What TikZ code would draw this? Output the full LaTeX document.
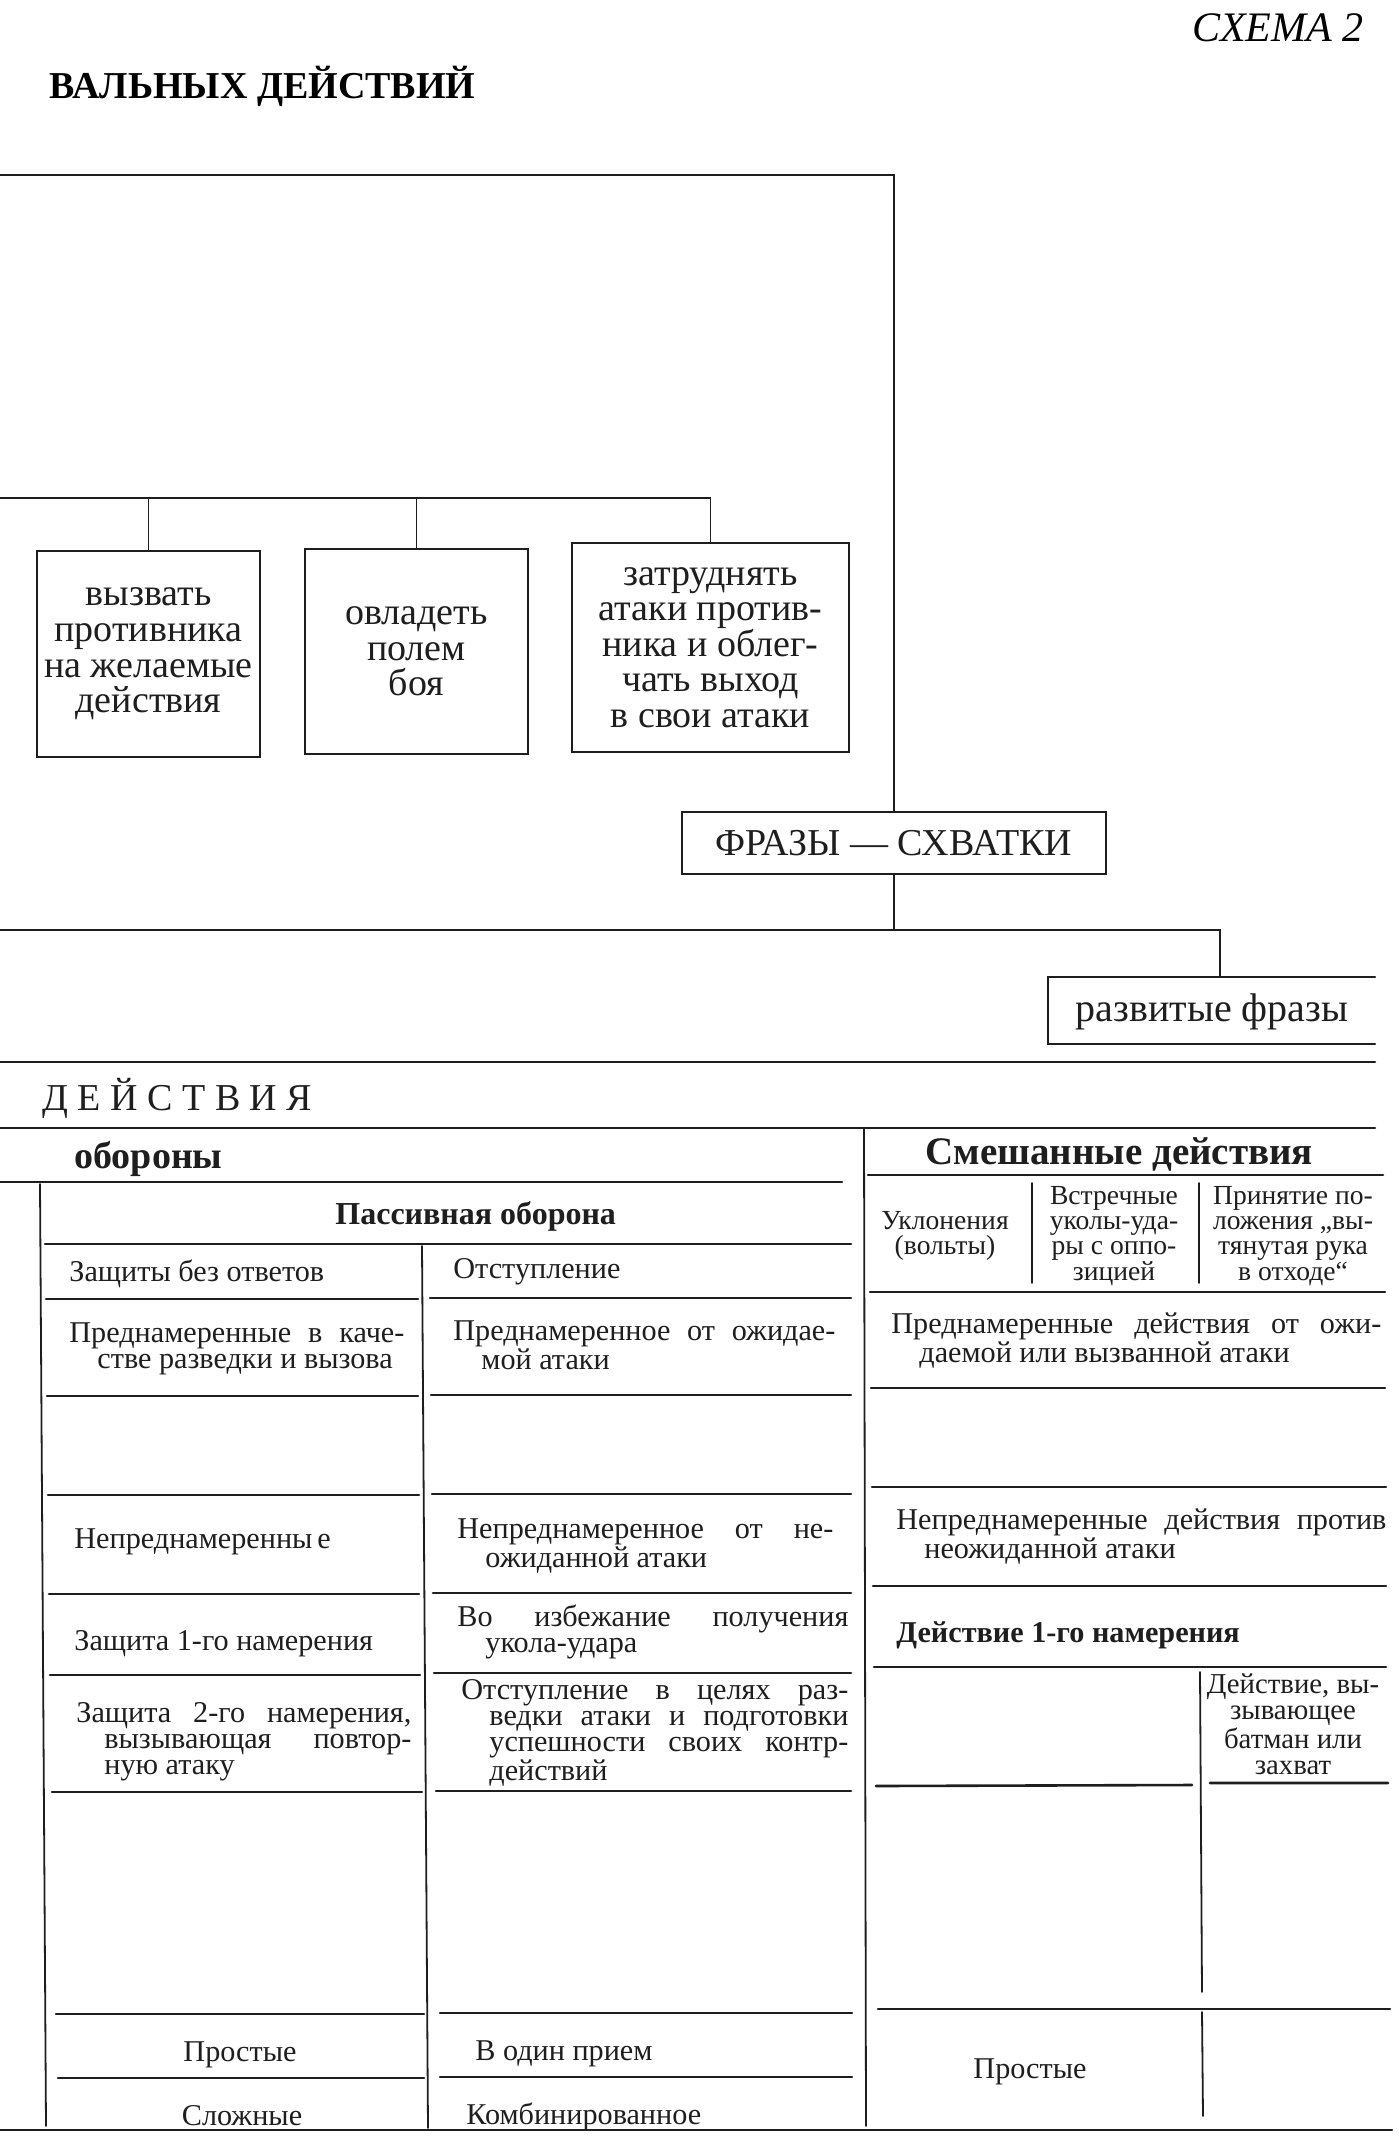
\documentclass[tikz,border=0pt]{standalone}
\usepackage{fontspec}
\setmainfont{Liberation Serif}
\usetikzlibrary{positioning}
\definecolor{SchemeInk}{HTML}{1E1E1E}
\newcommand\boxfont{\fontsize{19}{17.8}\selectfont}
\newcommand\tabfont{\fontsize{15.1}{13}\selectfont}
\newcommand\cellfont{\fontsize{13.8}{12.6}\selectfont}
\newcommand\hang{\hspace*{14pt}}
\hyphenpenalty=10000
\exhyphenpenalty=10000

\begin{document}
\begin{tikzpicture}[x=0.5pt, y=-0.5pt, line cap=round,
    rule/.style={draw=SchemeInk, line width=1.3pt},
    vrule/.style={draw=SchemeInk, line width=0.9pt},
    goal/.style={draw=SchemeInk, line width=1pt, inner sep=0pt, align=center, font=\boxfont, text=SchemeInk},
    lbl/.style={anchor=base west, inner sep=0pt, font=\tabfont, text=SchemeInk},
    para/.style={anchor=base west, inner sep=0pt, text width=#1, align=justify, font=\tabfont, text=SchemeInk},
    cell/.style={inner sep=0pt, align=center, font=\cellfont, text=SchemeInk}]
    \fill[white] (0,0) rectangle (1398,2142);
    \useasboundingbox (0,0) rectangle (1398,2142);

    % Header
    \node[anchor=base east, inner sep=0pt, font=\fontsize{21}{21}\selectfont\itshape] (scheme) at (1364,41) {СХЕМА 2};
    \node[anchor=base west, inner sep=0pt, font=\fontsize{19}{19}\selectfont\bfseries] (title) at (49,98) {ВАЛЬНЫХ ДЕЙСТВИЙ};

    % Goals of the bout
    \node[goal, minimum width=111.5pt, minimum height=103pt] (goalProvoke) at (148.5,654) {вызвать\\противника\\на желаемые\\действия};
    \node[goal, minimum width=111.5pt, minimum height=102.5pt] (goalField) at (416.5,651.5) {овладеть\\полем\\боя};
    \node[goal, minimum width=138.5pt, minimum height=104.5pt] (goalHinder) at (710.5,647.5) {затруднять\\атаки против-\\ника и облег-\\чать выход\\в свои атаки};
    \node[goal, minimum width=212pt, minimum height=31pt, font=\fontsize{19}{19}\selectfont] (bouts) at (894,843) {ФРАЗЫ — СХВАТКИ};
    \node[inner sep=0pt, font=\fontsize{20}{20}\selectfont, text=SchemeInk] (developed) at (1212,1012) {развитые фразы};
    \draw[goal] (1375,977) -- (1048,977) -- (1048,1044) -- (1375,1044);

    % Connectors
    \coordinate (stemTop) at (0,175);
    \coordinate (busGoals) at (0,498);
    \coordinate (busBouts) at (0,930);
    \coordinate (devTop) at (1220,977);
    \draw[vrule] (stemTop) -| (bouts.north);
    \draw[vrule] (busGoals) -- (busGoals -| goalHinder.north) -- (goalHinder.north);
    \draw[vrule] (goalProvoke.north |- busGoals) -- (goalProvoke.north);
    \draw[vrule] (goalField.north |- busGoals) -- (goalField.north);
    \draw[vrule] (bouts.south) -- (bouts.south |- busBouts);
    \draw[vrule] (busBouts) -| (devTop);

    % Table frame
    \draw[rule] (0,1062) -- (1375,1062);
    \draw[rule] (0,1128) -- (1375,1128);
    \draw[rule] (0,1182) -- (842,1182);
    \draw[rule] (868,1175) -- (1383,1175);
    \draw[rule] (0,2130) -- (1392,2130);
    \draw[vrule] (864,1128) -- (866,2126);
    \node[lbl, font=\fontsize{19}{19}\selectfont\addfontfeatures{LetterSpace=25}] (hdrActions) at (42,1110) {ДЕЙСТВИЯ};
    \node[lbl, font=\fontsize{19}{19}\selectfont\bfseries] (hdrDefence) at (74,1168) {обороны};
    \node[lbl, font=\fontsize{19.5}{19.5}\selectfont\bfseries] (hdrMixed) at (925,1164) {Смешанные действия};

    % Passive defence
    \draw[vrule] (40,1184) -- (46,2126);
    \draw[vrule] (422,1246) -- (428,2128);
    \draw[rule] (45,1244) -- (851,1244);
    \draw[rule] (46,1299) -- (418,1299) (430,1298) -- (851,1298);
    \draw[rule] (47,1396) -- (418,1396) (431,1395) -- (851,1395);
    \draw[rule] (48,1495) -- (419,1495) (432,1494) -- (851,1494);
    \draw[rule] (49,1594) -- (419,1594) (433,1593) -- (851,1593);
    \draw[rule] (50,1675) -- (420,1675) (434,1673) -- (851,1673);
    \draw[rule] (52,1792) -- (422,1792) (436,1791) -- (851,1791);
    \draw[rule] (56,2014) -- (424,2014) (440,2013) -- (852,2013);
    \draw[rule] (58,2078) -- (424,2078) (440,2077) -- (852,2077);
    \node[lbl, font=\fontsize{16}{16}\selectfont\bfseries] (hdrPassive) at (335,1224) {Пассивная оборона};
    \node[lbl] (parryOnly) at (69,1281) {Защиты без ответов};
    \node[lbl] (retreat) at (453,1278) {Отступление};
    \node[para=167.5pt] (parryScout) at (69,1342) {Преднамеренные в каче-\linebreak\hang стве разведки и вызова};
    \node[para=191pt] (retreatExpected) at (453,1340) {Преднамеренное от ожидае-\linebreak\hang мой атаки};
    \node[lbl] (parryUnplanned) at (74,1548) {Непреднамеренны\,е};
    \node[para=188pt] (retreatSudden) at (457,1538) {Непреднамеренное от не-\linebreak\hang ожиданной атаки};
    \node[lbl] (parryFirst) at (74,1650) {Защита 1-го намерения};
    \node[para=195.5pt] (retreatAvoid) at (457,1626) {Во избежание получения\linebreak\hang укола-удара};
    \node[para=167.5pt] (parrySecond) at (76,1722) {Защита 2-го намерения,\linebreak\hang вызывающая повтор-\linebreak\hang ную атаку};
    \node[para=193.5pt] (retreatScout) at (461,1699) {Отступление в целях раз-\linebreak\hang ведки атаки и подготовки\linebreak\hang успешности своих контр-\linebreak\hang действий};
    \node[lbl, anchor=base] (parrySimple) at (240,2061) {Простые};
    \node[lbl, anchor=base] (parryCompound) at (242,2125) {Сложные};
    \node[lbl] (retreatSingle) at (475,2060) {В один прием};
    \node[lbl] (retreatCombined) at (466,2124) {Комбинированное};

    % Mixed actions
    \draw[vrule] (1032,1183) -- (1032,1283);
    \draw[vrule] (1199,1183) -- (1199,1283);
    \draw[rule] (870,1292) -- (1385,1292);
    \draw[rule] (871,1388) -- (1385,1388);
    \draw[rule] (872,1487) -- (1386,1487);
    \draw[rule] (873,1586) -- (1386,1586);
    \draw[rule] (874,1667) -- (1386,1667);
    \draw[vrule] (1200,1672) -- (1202,1992);
    \draw[rule] (876,1786) -- (1192,1785) (1210,1783) -- (1388,1783);
    \draw[rule] (878,2009) -- (1390,2009);
    \draw[vrule] (1202,2012) -- (1203,2116);
    \node[cell] (mixDodge) at (945,1236) {Уклонения\\(вольты)};
    \node[cell] (mixCounter) at (1114,1236) {Встречные\\уколы-уда-\\ры с оппо-\\зицией};
    \node[cell] (mixStance) at (1293,1236) {Принятие по-\\ложения „вы-\\тянутая рука\\в отходе“};
    \node[para=245pt] (mixExpected) at (891,1333) {Преднамеренные действия от ожи-\linebreak\hang даемой или вызванной атаки};
    \node[para=245pt] (mixSudden) at (896,1529) {Непреднамеренные действия против\linebreak\hang неожиданной атаки};
    \node[lbl, font=\tabfont\bfseries] (mixFirst) at (896,1642) {Действие 1-го намерения};
    \node[cell, font=\fontsize{14.4}{13.2}\selectfont] (mixBait) at (1293,1724) {Действие, вы-\\зывающее\\батман или\\захват};
    \node[lbl, anchor=base] (mixSimple) at (1030,2078) {Простые};
\end{tikzpicture}
\end{document}
